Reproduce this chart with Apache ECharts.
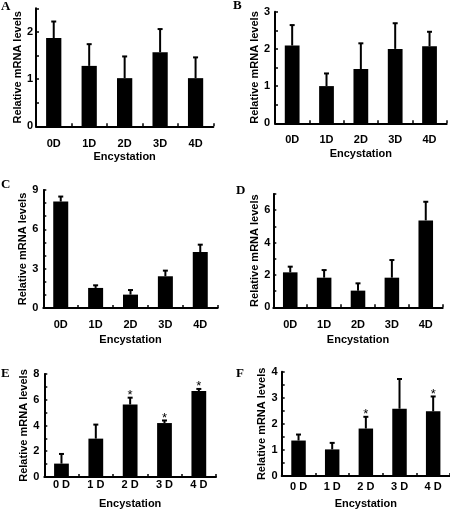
<!DOCTYPE html>
<html>
<head>
<meta charset="utf-8">
<script src="https://cdn.jsdelivr.net/npm/echarts@6/dist/echarts.min.js"></script>
<style>
html,body{margin:0;padding:0;background:#fff;}
#chart{width:450px;height:510px;}
</style>
</head>
<body>
<div id="chart"></div>
<script>
// ---- data ----
const days = ['0D', '1D', '2D', '3D', '4D'];
const daysSpaced = ['0 D', '1 D', '2 D', '3 D', '4 D'];

const meanA = [1.87, 1.28, 1.02, 1.57, 1.02];
const upperA = [2.22, 1.74, 1.48, 2.06, 1.46];

const meanB = [2.09, 1.00, 1.46, 2.00, 2.07];
const upperB = [2.64, 1.34, 2.15, 2.69, 2.46];

const meanC = [8.12, 1.53, 1.02, 2.42, 4.27];
const upperC = [8.50, 1.73, 1.37, 2.85, 4.83];

const meanD = [2.16, 1.83, 1.03, 1.83, 5.37];
const upperD = [2.51, 2.30, 1.48, 2.92, 6.52];

const meanE = [1.04, 2.98, 5.63, 4.19, 6.67];
const upperE = [1.79, 4.07, 6.16, 4.39, 6.84];
const starE = [0, 0, 1, 1, 1];

const meanF = [1.36, 1.02, 1.82, 2.58, 2.48];
const upperF = [1.59, 1.27, 2.27, 3.72, 3.05];
const starF = [0, 0, 1, 0, 1];

const noStar = [0, 0, 0, 0, 0];

const yTitle = 'Relative mRNA levels';
const xTitle = 'Encystation';

// ---- layout ----
const FONT = 'Liberation Sans, Arial, sans-serif';
const panels = [
  {letter: 'A', cats: days, mean: meanA, upper: upperA, star: noStar, max: 2.5, step: 0.5, labelStep: 1,
   grid: {left: 36, top: 8.3, width: 177.3, height: 118}, xMargin: 12, xGap: 25, yMargin: 3, yGap: 13,
   lx: 1, ly: 7},
  {letter: 'B', cats: days, mean: meanB, upper: upperB, star: noStar, max: 3, step: 0.5, labelStep: 1,
   grid: {left: 275, top: 11.7, width: 171.7, height: 111.6}, xMargin: 11, xGap: 25.5, yMargin: 5, yGap: 14,
   lx: 233, ly: 6},
  {letter: 'C', cats: days, mean: meanC, upper: upperC, star: noStar, max: 9, step: 1, labelStep: 3,
   grid: {left: 43.3, top: 190, width: 174.4, height: 118}, xMargin: 11, xGap: 26, yMargin: 5, yGap: 12.5,
   lx: 1, ly: 185},
  {letter: 'D', cats: days, mean: meanD, upper: upperD, star: noStar, max: 7, step: 1, labelStep: 2,
   grid: {left: 273.3, top: 194, width: 169.4, height: 113.3}, xMargin: 12, xGap: 27, yMargin: 3, yGap: 12,
   lx: 236, ly: 191},
  {letter: 'E', cats: daysSpaced, mean: meanE, upper: upperE, star: starE, max: 8, step: 1, labelStep: 2,
   grid: {left: 44.3, top: 374, width: 171.7, height: 105.7}, xMargin: 2.5, xGap: 21, yMargin: 5, yGap: 13.5,
   lx: 1, ly: 374},
  {letter: 'F', cats: daysSpaced, mean: meanF, upper: upperF, star: starF, max: 4, step: 0.5, labelStep: 1,
   grid: {left: 281.7, top: 371.7, width: 168.3, height: 105}, xMargin: 5.5, xGap: 22, yMargin: 4, yGap: 13.5,
   lx: 236, ly: 374}
];

const grids = [], xAxes = [], yAxes = [], series = [], graphics = [];

panels.forEach(function (p, i) {
  grids.push(Object.assign({containLabel: false}, p.grid));
  xAxes.push({
    type: 'category', gridIndex: i, data: p.cats, boundaryGap: true,
    axisLine: {lineStyle: {color: '#000', width: 2}},
    axisTick: {show: true, inside: true, length: 3, alignWithLabel: false, lineStyle: {color: '#000', width: 1.5}},
    axisLabel: {color: '#000', fontFamily: FONT, fontWeight: 'bold', fontSize: 11, margin: p.xMargin},
    name: xTitle, nameLocation: 'middle', nameGap: p.xGap,
    nameTextStyle: {color: '#000', fontFamily: FONT, fontWeight: 'bold', fontSize: 11},
    splitLine: {show: false}
  });
  yAxes.push({
    type: 'value', gridIndex: i, min: 0, max: p.max, interval: p.step,
    axisLine: {show: true, lineStyle: {color: '#000', width: 2}},
    axisTick: {show: true, inside: true, length: 3, lineStyle: {color: '#000', width: 1.5}},
    axisLabel: {
      color: '#000', fontFamily: FONT, fontWeight: 'bold', fontSize: 11, margin: p.yMargin,
      formatter: (function (ls) {
        return function (v) {
          const r = v / ls;
          return Math.abs(r - Math.round(r)) < 1e-6 ? String(Math.round(v)) : '';
        };
      })(p.labelStep)
    },
    name: yTitle, nameLocation: 'middle', nameGap: p.yGap, nameRotate: 90,
    nameTextStyle: {color: '#000', fontFamily: FONT, fontWeight: 'bold', fontSize: 11},
    splitLine: {show: false}
  });
  series.push({
    type: 'bar', xAxisIndex: i, yAxisIndex: i, data: p.mean, barWidth: '43%',
    itemStyle: {color: '#000'}, silent: true, animation: false
  });
  series.push({
    type: 'custom', xAxisIndex: i, yAxisIndex: i, animation: false, silent: true,
    encode: {x: 0, y: [1, 2]},
    data: p.mean.map(function (m, k) { return [k, m, p.upper[k], p.star[k]]; }),
    renderItem: function (params, api) {
      const k = api.value(0);
      const p0 = api.coord([k, api.value(1)]);
      const p1 = api.coord([k, api.value(2)]);
      const st = {stroke: '#000', lineWidth: 2};
      const children = [
        {type: 'line', shape: {x1: p0[0], y1: p0[1], x2: p1[0], y2: p1[1]}, style: st},
        {type: 'line', shape: {x1: p1[0] - 2.5, y1: p1[1], x2: p1[0] + 2.5, y2: p1[1]}, style: st}
      ];
      if (api.value(3)) {
        children.push({type: 'text', style: {
          text: '*', x: p1[0], y: p1[1] + 4, align: 'center', verticalAlign: 'bottom',
          fontSize: 13, fontFamily: FONT, fill: '#000'
        }});
      }
      return {type: 'group', children: children};
    }
  });
  graphics.push({
    type: 'text', left: p.lx, top: p.ly - 7,
    style: {text: p.letter, font: 'bold 13px "Liberation Serif", "Times New Roman", serif', fill: '#000'}
  });
});

const chart = echarts.init(document.getElementById('chart'), null, {renderer: 'canvas'});
chart.setOption({
  animation: false,
  backgroundColor: '#fff',
  grid: grids, xAxis: xAxes, yAxis: yAxes, series: series, graphic: graphics
});
</script>
</body>
</html>
